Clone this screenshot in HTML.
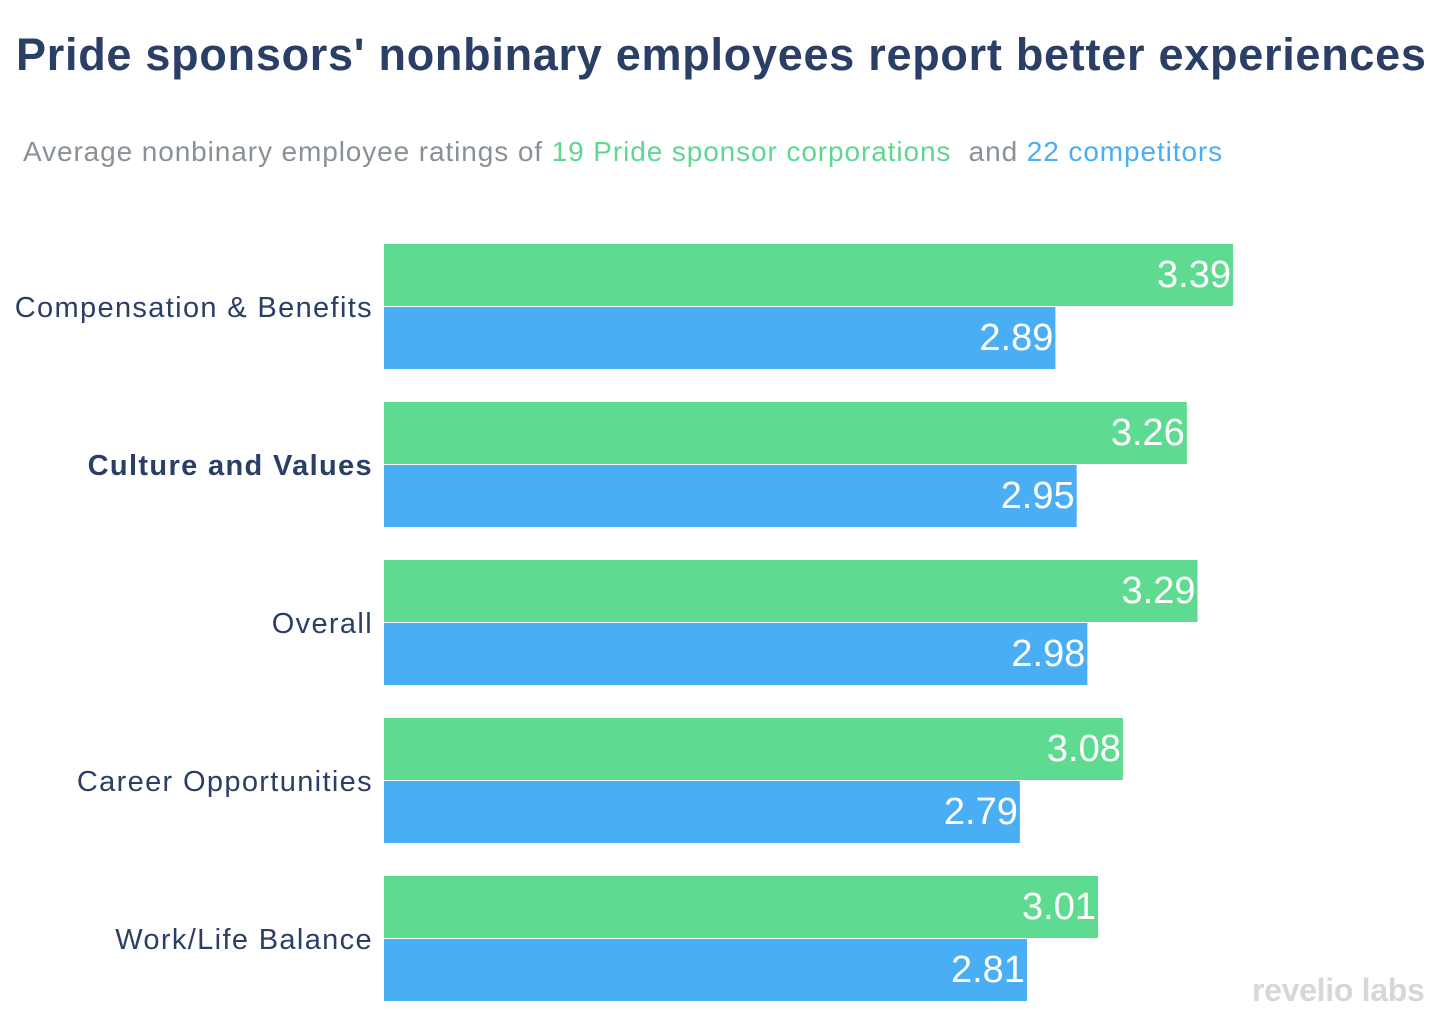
<!DOCTYPE html>
<html><head><meta charset="utf-8"><style>
body{margin:0;width:1444px;height:1024px;background:#fff;font-family:"Liberation Sans",sans-serif;overflow:hidden;position:relative}
#title{position:absolute;left:16px;top:29px;font-size:45px;font-weight:bold;color:#2b3f66;letter-spacing:0.73px;white-space:nowrap}
#sub{position:absolute;left:23px;top:136px;font-size:28px;color:#8a9196;white-space:nowrap;letter-spacing:0.9px}
#logo{position:absolute;left:1252px;top:972px;font-size:32px;font-weight:bold;color:#d5d8db;letter-spacing:-0.3px}
svg{position:absolute;left:0;top:0}
</style></head><body>
<div id="title">Pride sponsors' nonbinary employees report better experiences</div>
<div id="sub">Average nonbinary employee ratings of <span style="color:#5dd88f">19 Pride sponsor corporations</span>&nbsp; and <span style="color:#49aef3">22 competitors</span></div>
<svg id="chart" width="1444" height="1024"></svg>
<div id="logo">revelio labs</div>
<script>
const categories=["Compensation & Benefits","Culture and Values","Overall","Career Opportunities","Work/Life Balance"];
const sponsorValues=[3.39,3.26,3.29,3.08,3.01];
const competitorValues=[2.89,2.95,2.98,2.79,2.81];
const svg=document.getElementById('chart');
const NS='http://www.w3.org/2000/svg';
const xMin=1, x0=384, pxPerUnit=(1233-384)/2.39;
const x=v=>x0+(v-xMin)*pxPerUnit;
const yTop=i=>244+i*158;
function mk(t,a){const e=document.createElementNS(NS,t);for(const k in a)e.setAttribute(k,a[k]);svg.appendChild(e);return e;}
categories.forEach((c,i)=>{
  const y=yTop(i);
  const g=mk('rect',{x:x0,y:y,width:x(sponsorValues[i])-x0,height:62,fill:'#5fdb91'});
  
  
  const b=mk('rect',{x:x0,y:y+63,width:x(competitorValues[i])-x0,height:62,fill:'#49aef3'});
  
  
  const l=mk('text',{x:373,y:y+73,'text-anchor':'end','font-size':29,'letter-spacing':1.35,fill:'#2b3f66','font-weight':i===1?'bold':'normal'});
  l.textContent=c;
  
  
  const t1=mk('text',{x:x(sponsorValues[i])-2,y:y+43,'text-anchor':'end','font-size':38,fill:'#fff'});
  t1.textContent=sponsorValues[i].toFixed(2);
  
  
  const t2=mk('text',{x:x(competitorValues[i])-2,y:y+106,'text-anchor':'end','font-size':38,fill:'#fff'});
  t2.textContent=competitorValues[i].toFixed(2);
  
  
});
</script>
</body></html>
